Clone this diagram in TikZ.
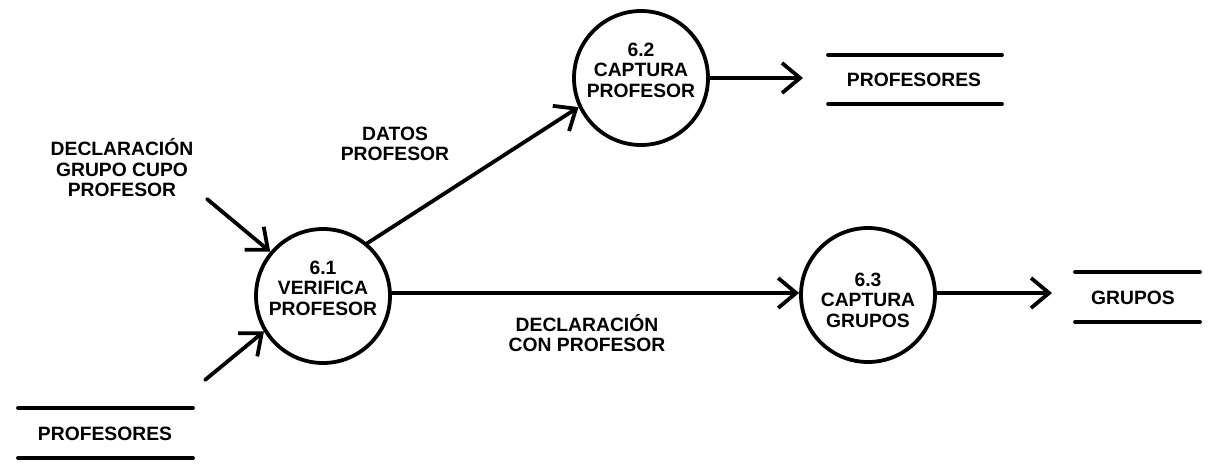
\documentclass[tikz,border=0pt]{standalone}
\usepackage{fontspec}
\setmainfont{Liberation Sans}
\usetikzlibrary{arrows.meta}
\begin{document}
\begin{tikzpicture}[x=1pt,y=-1pt,
  every node/.style={font=\fontsize{19.3}{20.5}\selectfont\bfseries, align=center, inner sep=0pt},
  proc/.style={draw, circle, line width=3.8pt, minimum size=134pt},
  flow/.style={line width=3.8pt, line cap=round, -{Straight Barb[length=18pt,width=30pt,line width=3.8pt]}},
  storeline/.style={line width=3.8pt, line cap=round}]
\useasboundingbox[fill=white] (0,0) rectangle (1208,466);

% processes
\node[proc] (p61) at (323,296) {};
\node[proc] (p62) at (641,78) {};
\node[proc] (p63) at (868,295) {};
\node[yshift=8pt] (t61) at (p61) {6.1\\VERIFICA\\PROFESOR};
\node[yshift=8pt] (t62) at (p62) {6.2\\CAPTURA\\PROFESOR};
\node[yshift=-5pt] (t63) at (p63) {6.3\\CAPTURA\\GRUPOS};

% stores
\node (sprof1) at (914,80) {PROFESORES};
\draw[storeline] (828,55) -- (1002,55);
\draw[storeline] (828,104) -- (1002,104);

\node (sgrup) at (1133,298) {GRUPOS};
\draw[storeline] (1075,272) -- (1200,272);
\draw[storeline] (1075,322) -- (1200,322);

\node (sprof0) at (105,434) {PROFESORES};
\draw[storeline] (18,408) -- (193,408);
\draw[storeline] (18,458) -- (193,458);

% labels
\node (ldecl) at (122,168) {DECLARACIÓN\\GRUPO CUPO\\PROFESOR};
\node (ldatos) at (395,144) {DATOS\\PROFESOR};
\node (lcon) at (587,333) {DECLARACIÓN\\CON PROFESOR};

% free ends
\coordinate (in1) at (207,199);
\coordinate (in2) at (205,380);
\coordinate (o62) at (803,78);
\coordinate (o63) at (1052,293);

% flows
\draw[flow] (in1) -- (p61.140);
\draw[flow] (in2) -- (p61.211);
\draw[flow] (p61.50) -- (p62.205);
\draw[flow] (p61.east |- 0,293) -- (p63.west |- 0,293);
\draw[flow] (p62.east) -- (o62);
\draw[flow] (p63.east |- 0,293) -- (o63);
\end{tikzpicture}
\end{document}
